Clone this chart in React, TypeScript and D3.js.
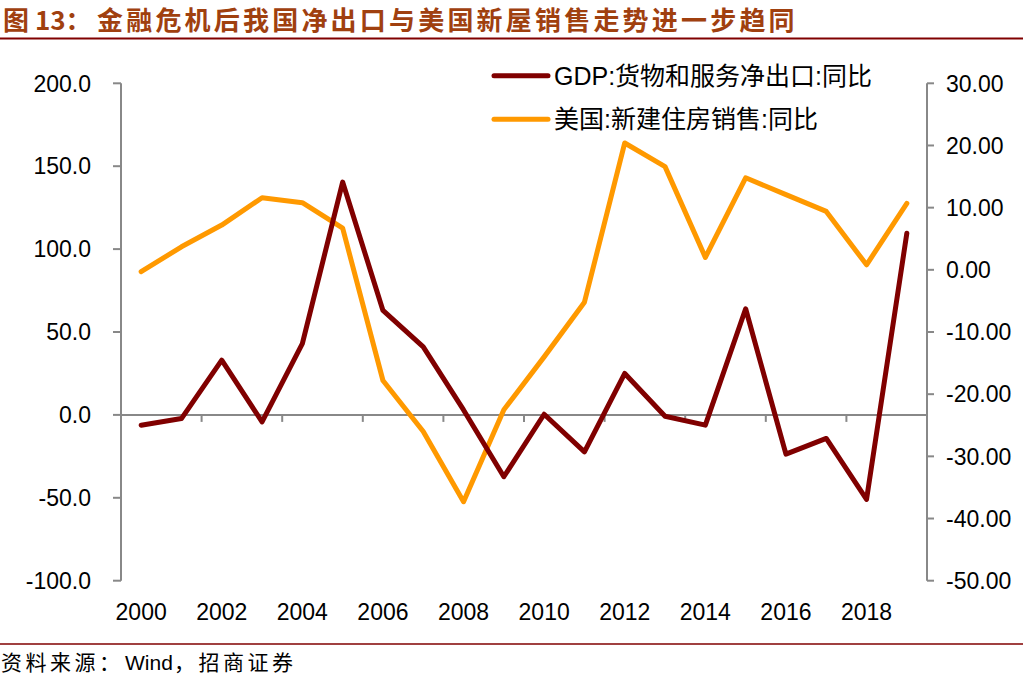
import React from "react";
import * as d3 from "d3";

// years on the category axis
const years = d3.range(2000, 2020);

// GDP: goods & services net exports, yoy (left axis)
const gdpNetExports = [
  -6.2, -2.2, 33, -4.2, 43, 140.4, 63, 41, 3, -37.3,
  0.4, -22.3, 25, -0.8, -6.2, 64, -23.7, -14.2, -51, 109.6,
];

// US new home sales, yoy (right axis)
const usNewHomeSales = [
  -0.3, 3.7, 7.2, 11.6, 10.8, 6.7, -17.8, -26, -37.3, -22.5,
  -14, -5.2, 20.4, 16.6, 2, 14.8, 12.1, 9.4, 0.8, 10.7,
];

const leftTicks = [-100, -50, 0, 50, 100, 150, 200];
const rightTicks = [-50, -40, -30, -20, -10, 0, 10, 20, 30];
const yearLabels = years.filter((y) => y % 2 === 0);

const seriesNames = ["GDP:货物和服务净出口:同比", "美国:新建住房销售:同比"];
const seriesColors = ["#800000", "#FF9900"];

const W = 1023;
const H = 678;
const AXIS = "#888888";
const FONT = "Arial, 'Liberation Sans', 'Noto Sans CJK SC', sans-serif";
const CJK = "'Noto Sans CJK SC', sans-serif";

export default function App() {
  const x = d3.scaleBand<number>().domain(years).range([121, 927]);
  const yL = d3.scaleLinear().domain([-100, 200]).range([580.7, 83.3]);
  const yR = d3.scaleLinear().domain([-50, 30]).range([580.7, 83.3]);
  const cx = (yr: number) => (x(yr) ?? 0) + x.bandwidth() / 2;

  const lineL = d3
    .line<number>()
    .x((_, i) => cx(years[i]))
    .y((d) => yL(d));
  const lineR = d3
    .line<number>()
    .x((_, i) => cx(years[i]))
    .y((d) => yR(d));

  const y0 = yL(0);
  // tick marks on category boundaries every 2 years
  const catTicks = years.filter((y) => y % 2 === 0 && y > 2000).map((y) => x(y) ?? 0);
  catTicks.push(927);

  return (
    <svg
      width={W}
      height={H}
      style={{ position: "absolute", left: 0, top: 0, background: "#fff" }}
    >
      {/* title */}
      <text y={30} fontFamily={CJK} fontWeight="bold" fontSize={26} fill="#A0400F">
        <tspan x={3}>图 13：</tspan>
        <tspan x={97} letterSpacing={3.2}>
          金融危机后我国净出口与美国新屋销售走势进一步趋同
        </tspan>
      </text>
      <line x1={0} x2={W} y1={38.5} y2={38.5} stroke="#800000" strokeWidth={2} />

      {/* left axis */}
      <line x1={121} x2={121} y1={yL(200)} y2={yL(-100)} stroke={AXIS} strokeWidth={2} />
      {leftTicks.map((t) => (
        <g key={"l" + t}>
          <line x1={113} x2={121} y1={yL(t)} y2={yL(t)} stroke={AXIS} strokeWidth={2} />
          <text
            x={91}
            y={yL(t)}
            dy="0.36em"
            textAnchor="end"
            fontFamily={FONT}
            fontSize={23}
            fill="#000"
          >
            {t.toFixed(1)}
          </text>
        </g>
      ))}

      {/* right axis */}
      <line x1={927} x2={927} y1={yR(30)} y2={yR(-50)} stroke={AXIS} strokeWidth={2} />
      {rightTicks.map((t) => (
        <g key={"r" + t}>
          <line x1={927} x2={934} y1={yR(t)} y2={yR(t)} stroke={AXIS} strokeWidth={2} />
          <text
            x={946}
            y={yR(t)}
            dy="0.36em"
            fontFamily={FONT}
            fontSize={23}
            fill="#000"
          >
            {t.toFixed(2)}
          </text>
        </g>
      ))}

      {/* category axis at zero */}
      <line x1={121} x2={927} y1={y0} y2={y0} stroke={AXIS} strokeWidth={2} />
      {catTicks.map((tx, i) => (
        <line key={"c" + i} x1={tx} x2={tx} y1={y0} y2={y0 + 7} stroke={AXIS} strokeWidth={2} />
      ))}
      {yearLabels.map((yr) => (
        <text
          key={yr}
          x={cx(yr)}
          y={612}
          dy="0.36em"
          textAnchor="middle"
          fontFamily={FONT}
          fontSize={23}
          fill="#000"
        >
          {yr}
        </text>
      ))}

      {/* series */}
      <path
        d={lineR(usNewHomeSales) ?? ""}
        fill="none"
        stroke={seriesColors[1]}
        strokeWidth={5}
        strokeLinejoin="round"
        strokeLinecap="round"
      />
      <path
        d={lineL(gdpNetExports) ?? ""}
        fill="none"
        stroke={seriesColors[0]}
        strokeWidth={5}
        strokeLinejoin="round"
        strokeLinecap="round"
      />

      {/* legend */}
      {seriesNames.map((name, i) => (
        <g key={name} transform={`translate(0,${75.7 + i * 43.6})`}>
          <line x1={494} x2={548} y1={0} y2={0} stroke={seriesColors[i]} strokeWidth={5} strokeLinecap="round" />
          <text x={554} y={0} dy="0.36em" fontFamily={FONT} fontSize={25} fill="#000">
            {name}
          </text>
        </g>
      ))}

      {/* footer */}
      <line x1={0} x2={W} y1={644} y2={644} stroke="#800000" strokeWidth={1.5} />
      <text y={670} fontFamily={CJK} fontSize={21} fill="#000">
        <tspan x={1} letterSpacing={3.5}>资料来源：</tspan>
        <tspan x={125} fontFamily={FONT}>Wind</tspan>
        <tspan x={174} letterSpacing={3.5}>，招商证券</tspan>
      </text>
    </svg>
  );
}
